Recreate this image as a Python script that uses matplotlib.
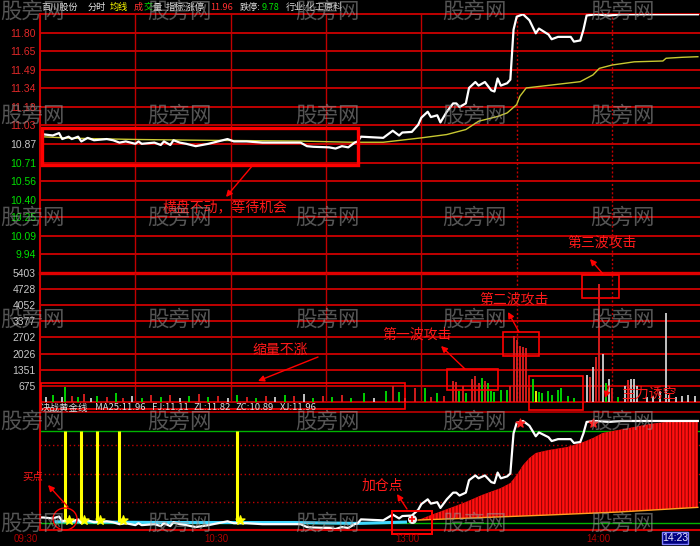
import matplotlib
matplotlib.use('Agg')
import matplotlib.pyplot as plt
from matplotlib.patches import Rectangle, Ellipse, Polygon

plt.rcParams['font.family'] = ['Noto Sans CJK SC', 'DejaVu Sans']
plt.rcParams['hatch.linewidth'] = 0.7
plt.rcParams['hatch.color'] = '#8a0000'

W, H = 700, 546

# ---------------- data ----------------
limit_up, limit_down, prev_close = 11.96, 9.78, 10.87
price_ticks = [11.80, 11.65, 11.49, 11.34, 11.18, 11.03, 10.87, 10.71, 10.56, 10.40, 10.25, 10.09, 9.94]
vol_ticks = [675, 1351, 2026, 2702, 3377, 4052, 4728, 5403]

price_min = [0, 1, 4, 6, 7, 9, 10, 12, 13, 15, 17, 21, 23, 25, 27, 30, 31, 32, 36, 38, 39, 41, 42, 44,
             46, 49, 50, 53, 59, 61, 65, 70, 78, 82, 84, 86, 91, 93, 95, 97, 99, 100, 101, 108, 111, 113,
             114, 117, 119, 120, 122, 123, 125, 126, 128, 130, 131, 132, 134, 135, 137, 138, 140, 142,
             143, 144, 145, 147, 148, 149, 150, 152, 154, 156, 157, 160, 161, 163, 167, 168, 170, 171,
             172, 175, 179, 183, 207]
price_val = [10.95, 10.95, 10.94, 10.96, 10.91, 10.93, 10.91, 10.93, 10.89, 10.92, 10.90, 10.91, 10.90,
             10.88, 10.89, 10.87, 10.89, 10.87, 10.88, 10.86, 10.89, 10.86, 10.90, 10.88, 10.87, 10.85,
             10.855, 10.87, 10.91, 10.89, 10.89, 10.88, 10.88, 10.88, 10.85, 10.845, 10.84, 10.83, 10.85,
             10.84, 10.88, 10.89, 10.93, 10.92, 10.98, 10.94, 10.965, 10.97, 11.03, 11.09, 11.14, 11.095,
             11.11, 11.05, 11.14, 11.21, 11.21, 11.18, 11.21, 11.34, 11.39, 11.36, 11.39, 11.32, 11.31,
             11.42, 11.36, 11.38, 11.41, 11.83, 11.94, 11.96, 11.91, 11.80, 11.84, 11.79, 11.75, 11.77,
             11.77, 11.73, 11.74, 11.83, 11.95, 11.96, 11.95, 11.96, 11.96]

avg_min = [0, 10, 31, 50, 82, 98, 108, 120, 128, 134, 138, 144, 147, 150, 151, 153, 161, 170, 174, 176,
           180, 187, 196, 197, 202, 207]
avg_val = [10.93, 10.917, 10.906, 10.90, 10.893, 10.883, 10.883, 10.92, 10.948, 10.99, 11.06, 11.10,
           11.13, 11.20, 11.27, 11.34, 11.365, 11.393, 11.45, 11.505, 11.533, 11.56, 11.567, 11.59,
           11.598, 11.603]

vol_min = [0, 2, 4, 7, 8, 10, 12, 14, 16, 18, 21, 24, 26, 29, 32, 35, 38, 41, 44, 47, 50, 53, 56, 59,
           62, 65, 68, 71, 74, 77, 80, 83, 86, 89, 92, 95, 98, 102, 105, 109, 111, 113, 115, 118, 121,
           123, 125, 127, 130, 131, 132, 133, 134, 136, 137, 138, 139, 140, 141, 142, 143, 145, 147,
           148, 149, 150, 151, 152, 153, 154, 155, 156, 157, 158, 160, 161, 163, 164, 166, 168, 172,
           173, 174, 175, 176, 177, 178, 179, 180, 182, 184, 185, 186, 187, 188, 191, 193, 195, 197,
           198, 200, 202, 204, 206]
vol_val = [500, 210, 290, 210, 600, 250, 180, 320, 150, 260, 200, 380, 170, 230, 160, 270, 190, 300,
           150, 220, 340, 180, 250, 160, 290, 200, 150, 240, 180, 300, 220, 330, 170, 260, 190, 280,
           150, 364, 150, 433, 642, 391, 150, 573, 573, 200, 364, 250, 852, 810, 433, 642, 364, 950,
           1090, 782, 978, 852, 782, 433, 391, 503, 475, 642, 2765, 2600, 2346, 2317, 2250, 573, 950,
           433, 391, 364, 433, 293, 475, 573, 250, 150, 1131, 1060, 1480, 1900, 4973, 2011, 782, 950,
           573, 200, 642, 894, 950, 950, 642, 200, 250, 433, 3716, 300, 200, 250, 293, 223]
vol_dir = list("rwgwgrgrwgrgrwgrgrwgrgrwgrgrwgrwgrgrggwgrgwrgrgrrrgrgrrrgrgggggrrrrrrgg" "y" "ggggggggwrwrrwgwrgwrwwwwwwwwwwwww")

# indicator panel ("决战黄金线")
ind_levels_green = [11.855, 10.892]
ind_levels_dotted = [11.71, 11.41, 11.11]
ma_min = [119, 123, 129, 134, 139, 145, 148, 150, 152, 154, 156, 160, 166, 171, 174, 177, 182, 187,
          192, 197, 202, 207]
ma_val = [10.923, 10.976, 11.049, 11.112, 11.185, 11.258, 11.311, 11.395, 11.499, 11.573, 11.625,
          11.656, 11.688, 11.74, 11.782, 11.834, 11.866, 11.897, 11.929, 11.95, 11.96, 11.96]
base_min = [119, 160, 182, 207]
base_val = [10.923, 10.976, 11.007, 11.056]
ma_am_min = [5, 40, 80, 100, 115]
ma_am_val = [10.905, 10.897, 10.897, 10.888, 10.902]
signal_bar_min = [8, 13, 18, 25, 62]
signal_star_min = [9, 14, 19, 26, 63]
peak_star_min = [151, 174]
peak_star_val = [11.94, 11.935]
add_point_min = [117]
add_point_val = [10.93]

time_label_min = [0, 60, 120, 180]
time_labels = ['09:30', '10:30', '13:00', '14:00']

# ---------------- layout ----------------
X0, X1 = 40, 700
PX_PER_MIN = 3.178
XMAX = (X1 - X0) / PX_PER_MIN
GRID = '#c00000'
RED = '#ff1a1a'

fig = plt.figure(figsize=(7, 5.46), dpi=100, facecolor='black')


def px_axes(x0, y0, x1, y1):
    ax = fig.add_axes([x0 / W, 1 - y1 / H, (x1 - x0) / W, (y1 - y0) / H])
    ax.set_facecolor('black')
    for s in ax.spines.values():
        s.set_visible(False)
    ax.set_xlim(0, XMAX)
    ax.set_xticks([])
    return ax


# price panel
ax_p = px_axes(X0, 14.3, X1, 273.3)
ax_p.set_ylim(limit_down, limit_up)
for t in price_ticks + [limit_up]:
    ax_p.axhline(t, color=GRID, lw=1.4, zorder=1, clip_on=False)
for m in [30, 60, 90, 120]:
    ax_p.axvline(m, color=GRID, lw=1.0, zorder=1)
for m in [150, 180]:
    ax_p.axvline(m, color=GRID, lw=1.0, ls=(0, (1.5, 1.5)), zorder=1)
ax_p.plot(avg_min, avg_val, color='#c8c832', lw=1.0, zorder=4)
ax_p.plot(price_min, price_val, color='white', lw=1.6, zorder=5, solid_joinstyle='round')
ax_p.set_yticks(price_ticks)
ax_p.set_yticklabels([f'{t:.2f}' for t in price_ticks], fontfamily='Liberation Sans')
ax_p.tick_params(axis='y', length=0, pad=3, labelsize=7.5)
for lab, t in zip(ax_p.get_yticklabels(), price_ticks):
    if t > prev_close + 1e-6:
        lab.set_color('#e02828')
    elif abs(t - prev_close) < 1e-6:
        lab.set_color('#c8c8c8')
    else:
        lab.set_color('#00e000')

# volume panel
ax_v = px_axes(X0, 273.3, X1, 401.7)
ax_v.set_ylim(0, vol_ticks[-1])
for t in vol_ticks[:-1]:
    ax_v.axhline(t, color=GRID, lw=1.4, zorder=1)
ax_v.axhline(vol_ticks[-1], color='#e00000', lw=2.4, zorder=1, clip_on=False)
ax_v.axhline(0, color=GRID, lw=1.4, zorder=1, clip_on=False)
for m in [30, 60, 90, 120]:
    ax_v.axvline(m, color=GRID, lw=1.0, zorder=1)
for m in [150, 180]:
    ax_v.axvline(m, color=GRID, lw=1.0, ls=(0, (1.5, 1.5)), zorder=1)
cmap = {'r': '#e02020', 'g': '#00e000', 'w': '#d0d0d0', 'y': '#ffff00'}
ax_v.vlines(vol_min, 0, vol_val, colors=[cmap[c] for c in vol_dir], lw=1.3, zorder=3)
ax_v.set_yticks(vol_ticks)
ax_v.set_yticklabels([str(t) for t in vol_ticks], fontfamily='Liberation Sans')
ax_v.tick_params(axis='y', length=0, pad=3, labelsize=7.5, labelcolor='#c8c8c8')

# indicator panel
ax_i = px_axes(X0, 414, X1, 530)
ax_i.set_ylim(10.819, 12.033)
ax_i.set_yticks([])
for lv in ind_levels_green:
    ax_i.axhline(lv, color='#00b400', lw=1.0, zorder=1)
for lv in ind_levels_dotted:
    ax_i.axhline(lv, color=GRID, lw=1.0, ls=(0, (1, 2)), zorder=1)
poly = list(zip(ma_min, ma_val)) + list(zip(base_min[::-1], base_val[::-1]))
ax_i.add_patch(Polygon(poly, closed=True, facecolor='#ff1010', edgecolor='#8a0000',
                       hatch='|||||', lw=0, zorder=2))
ax_i.plot(base_min, base_val, color='#ffa020', lw=1.0, zorder=3)
ax_i.plot(ma_am_min, ma_am_val, color='#40d8ff', lw=2.2, zorder=3)
ax_i.vlines(signal_bar_min, 10.90, ind_levels_green[0], colors='#ffff00', lw=2.2, zorder=3)
ax_i.plot(price_min, price_val, color='white', lw=1.6, zorder=4)
ax_i.scatter(signal_star_min, [10.925] * len(signal_star_min), marker='*', s=45,
             color='#ffff00', zorder=5)
ax_i.scatter(peak_star_min, peak_star_val, marker='*', s=40, color='#ff2020', zorder=5)
ax_i.scatter(add_point_min, add_point_val, marker='o', s=30, color='#f0f0f0', zorder=5)
ax_i.scatter(add_point_min, add_point_val, marker='+', s=25, color='#ff0000', lw=1.2, zorder=6)

# ---------------- overlay (pixel coordinates) ----------------
ax_a = fig.add_axes([0, 0, 1, 1], facecolor='none')
ax_a.set_xlim(0, W)
ax_a.set_ylim(H, 0)
ax_a.axis('off')

ax_a.plot([40, 40], [14, 530], color='#d00000', lw=1.5, zorder=2)
ax_a.plot([40, 700], [530, 530], color='#d00000', lw=1.5, zorder=2)
ax_a.plot([40, 700], [412, 412], color=GRID, lw=1.2, zorder=1)

# header
hdr = [(41, '百川股份', '#e0e0e0'), (88, '分时', '#e0e0e0'), (110, '均线', '#ffff00'),
       (134, '成', '#ff3030'), (143.5, '交', '#00e000'), (153, '量', '#e0e0e0'),
       (166, '指标:涨停', '#e0e0e0'), (210, '11.96', '#ff3030'), (240, '跌停:', '#e0e0e0'),
       (262, '9.78', '#00e000'), (286, '行业:化工原料', '#e0e0e0')]
for x, s, c in hdr:
    ax_a.text(x, 7.5, s, color=c, fontsize=6.6, ha='left', va='center', zorder=6)

ind_hdr = [(41, '决战黄金线'), (95, 'MA25:11.96'), (152, 'FJ:11.11'), (193, 'ZL:11.82'),
           (235, 'ZC:10.89'), (280, 'XJ:11.96')]
for x, s in ind_hdr:
    ax_a.text(x, 408, s, color='#e0e0e0', fontsize=6.8, ha='left', va='center', zorder=6)

for m, s in zip(time_label_min, time_labels):
    ax_a.text(X0 + m * PX_PER_MIN - 14, 538.5, s, color='#b00000', fontsize=7,
              ha='center', va='center', fontfamily='Liberation Sans', zorder=6)

ax_a.add_patch(Rectangle((662, 532), 26, 12, facecolor='#000080', edgecolor='#8080ff', lw=1, zorder=6))
ax_a.text(675, 538, '14:23', color='#e8e8ff', fontsize=7.5, ha='center', va='center',
          fontfamily='Liberation Sans', zorder=7)

# annotations
rects = [((41.7, 128.3, 358, 164.5), 2.4), ((41, 383, 405, 409), 1.2),
         ((446.7, 369, 497.7, 390), 1.2), ((502.7, 332, 539, 355.7), 1.2),
         ((581.7, 275, 618.7, 298.3), 1.2), ((529, 376, 582.7, 410), 1.2),
         ((392, 511, 432, 534), 1.4)]
for (x0, y0, x1, y1), lw in rects:
    ax_a.add_patch(Rectangle((x0, y0), x1 - x0, y1 - y0, fill=False, edgecolor='#ff0000', lw=lw, zorder=5))
ax_a.add_patch(Ellipse((65, 519), 24, 22, fill=False, edgecolor='#ff0000', lw=1.0, zorder=5))

arrows = [((253, 165), (226, 197)), ((318, 357), (258, 381)), ((465, 369), (441, 346)),
          ((519, 332), (508, 312)), ((603, 274), (590, 259)), ((609, 386), (605, 398)),
          ((68, 507), (48, 485)), ((407, 509), (397, 494))]
for tail, head in arrows:
    ax_a.annotate('', xy=head, xytext=tail,
                  arrowprops=dict(arrowstyle='-|>', color='#ff0000', lw=1.0, mutation_scale=9,
                                  shrinkA=0, shrinkB=0), zorder=5)

labels = [(225, 207, '横盘不动，等待机会', 10), (280, 350, '缩量不涨', 10),
          (416.7, 335, '第一波攻击', 10), (514, 300, '第二波攻击', 10),
          (602.5, 243, '第三波攻击', 10), (649, 394, '主力诱空', 10),
          (33, 477, '买点', 7.5), (382, 486, '加仓点', 10)]
for x, y, s, fs in labels:
    ax_a.text(x, y, s, color=RED, fontsize=fs, ha='center', va='center', zorder=6)

# watermark tiles
for y in [12, 116, 218, 320, 422, 524]:
    for x in [0, 147.5, 295, 442.5, 590]:
        ax_a.text(x, y, '股旁网', color='#9a9a9a', alpha=0.55, fontsize=15.5,
                  ha='left', va='center', zorder=10)

fig.savefig('out.png', dpi=100, facecolor='black')
